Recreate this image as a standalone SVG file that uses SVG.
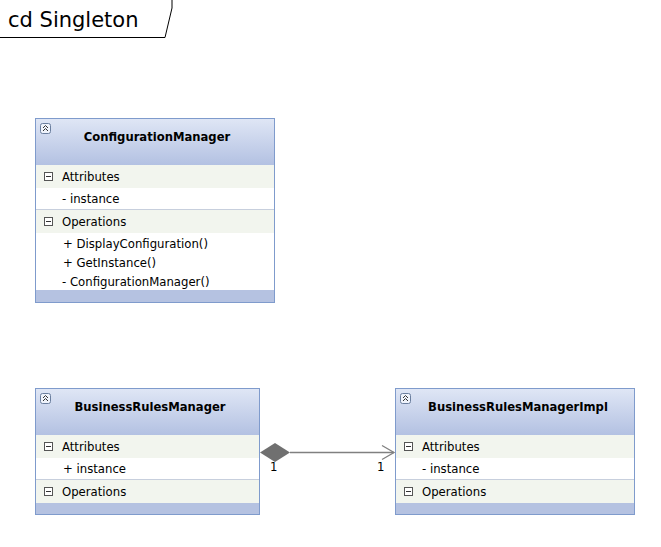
<svg xmlns="http://www.w3.org/2000/svg" width="661" height="547" viewBox="0 0 661 547">
<defs>
<linearGradient id="hdr" x1="0" y1="0" x2="0" y2="1">
<stop offset="0" stop-color="#dfe6f5"/>
<stop offset="1" stop-color="#b3c1e2"/>
</linearGradient>
<g id="collapse">
<rect x="0.5" y="0.5" width="10" height="10" rx="2" fill="#eef2fa" stroke="#6b7f9f"/>
<path d="M3 5 L5.5 2.5 L8 5 M3 8 L5.5 5.5 L8 8" fill="none" stroke="#333" stroke-width="1"/>
</g>
<g id="minus">
<rect x="0.5" y="0.5" width="8" height="8" fill="#fff" stroke="#555"/>
<line x1="2" y1="4.5" x2="7" y2="4.5" stroke="#333"/>
</g>
</defs>
<style>
text{font-family:"DejaVu Sans","Liberation Sans",sans-serif;font-size:11.7px;fill:#000}
.title{font-weight:bold;text-anchor:middle;font-size:11.6px}
.frame{font-size:21px}
.box{fill:#fff;stroke:#7f9bcc;stroke-width:1}
.band{fill:#f2f5ee}
.foot{fill:#b5c2e1}
.sep{stroke:#c7cfdd;stroke-width:1}
.conn{stroke:#808080;stroke-width:1.3;fill:none}
</style>
<rect width="661" height="547" fill="#fff"/>
<g id="frame">
<path d="M0 37.5 H165 L172 8 V0" fill="none" stroke="#000" stroke-width="1"/>
<text class="frame" x="8" y="27">cd Singleton</text>
</g>
<g id="ConfigurationManager">
<rect class="box" x="35.5" y="118.5" width="239" height="184"/>
<rect x="36" y="119" width="238" height="46" fill="url(#hdr)"/>
<use href="#collapse" x="40" y="123"/>
<text class="title" x="157" y="141">ConfigurationManager</text>
<rect class="band" x="36" y="165" width="238" height="23"/>
<use href="#minus" x="44" y="172"/>
<text x="62" y="181">Attributes</text>
<text x="62" y="203">- instance</text>
<line class="sep" x1="36" y1="209.5" x2="274" y2="209.5"/>
<rect class="band" x="36" y="210" width="238" height="23"/>
<use href="#minus" x="44" y="217"/>
<text x="62" y="226">Operations</text>
<text x="63" y="248">+ DisplayConfiguration()</text>
<text x="63" y="267">+ GetInstance()</text>
<text x="62" y="286">- ConfigurationManager()</text>
<rect class="foot" x="36" y="290" width="238" height="12"/>
</g>
<g id="BusinessRulesManager">
<rect class="box" x="35.5" y="388.5" width="224" height="126"/>
<rect x="36" y="389" width="223" height="46" fill="url(#hdr)"/>
<use href="#collapse" x="40" y="393"/>
<text class="title" x="150" y="411">BusinessRulesManager</text>
<rect class="band" x="36" y="435" width="223" height="23"/>
<use href="#minus" x="44" y="442"/>
<text x="62" y="451">Attributes</text>
<text x="63" y="473">+ instance</text>
<line class="sep" x1="36" y1="479.5" x2="259" y2="479.5"/>
<rect class="band" x="36" y="480" width="223" height="23"/>
<use href="#minus" x="44" y="487"/>
<text x="62" y="496">Operations</text>
<rect class="foot" x="36" y="503" width="223" height="11"/>
</g>
<g id="BusinessRulesManagerImpl">
<rect class="box" x="395.5" y="388.5" width="239" height="126"/>
<rect x="396" y="389" width="238" height="46" fill="url(#hdr)"/>
<use href="#collapse" x="400" y="393"/>
<text class="title" x="518" y="411">BusinessRulesManagerImpl</text>
<rect class="band" x="396" y="435" width="238" height="23"/>
<use href="#minus" x="404" y="442"/>
<text x="422" y="451">Attributes</text>
<text x="422" y="473">- instance</text>
<line class="sep" x1="396" y1="479.5" x2="634" y2="479.5"/>
<rect class="band" x="396" y="480" width="238" height="23"/>
<use href="#minus" x="404" y="487"/>
<text x="422" y="496">Operations</text>
<rect class="foot" x="396" y="503" width="238" height="11"/>
</g>
<g id="connectors">
<line class="conn" x1="290" y1="452.5" x2="394" y2="452.5"/>
<path class="conn" d="M382 445.5 L394 452.5 L382 459.5"/>
<path d="M260 452.5 L275 443 L290 452.5 L275 462 Z" fill="#707070"/>
<text x="270" y="471">1</text>
<text x="377" y="471">1</text>
</g>
</svg>
